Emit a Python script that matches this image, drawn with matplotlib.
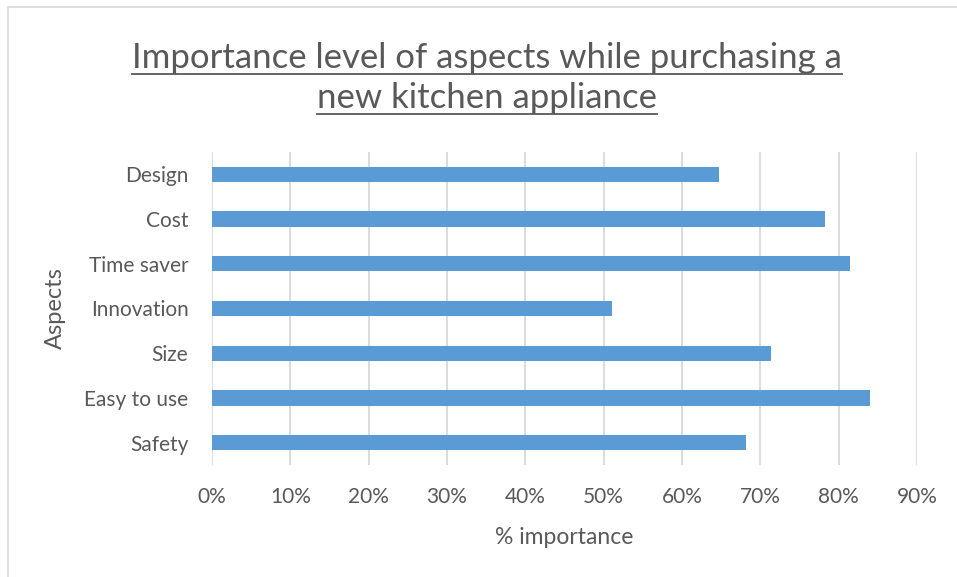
import matplotlib
matplotlib.use("Agg")
import matplotlib.pyplot as plt
from matplotlib.patches import Rectangle
from matplotlib.lines import Line2D

categories = ["Safety", "Easy to use", "Size", "Innovation", "Time saver", "Cost", "Design"]
values = [68.2, 84.0, 71.4, 51.1, 81.5, 78.2, 64.7]
xticks = [0, 10, 20, 30, 40, 50, 60, 70, 80, 90]
xtick_labels = [f"{t}%" for t in xticks]
title_lines = ["Importance level of aspects while purchasing a", "new kitchen appliance"]

plt.rcParams['font.family'] = ['Lato', 'DejaVu Sans']
W, H = 957, 577
fig = plt.figure(figsize=(W/100, H/100), dpi=100)
ax = fig.add_axes([212/W, 1-465/H, (917-212)/W, (465-152)/H])

gray = "#595959"
ax.barh(range(len(categories)), values, height=0.34, color="#5b9bd5", zorder=3)
ax.set_xlim(0, 90)
ax.set_ylim(-0.5, len(categories)-0.5)
ax.set_xticks(xticks)
ax.set_xticklabels(xtick_labels)
ax.set_yticks(range(len(categories)))
ax.set_yticklabels(categories)
ax.grid(axis='x', color="#d9d9d9", linewidth=1.3, zorder=0)
for s in ax.spines.values():
    s.set_visible(False)
ax.tick_params(axis='both', length=0, labelsize=15, labelcolor=gray)
ax.tick_params(axis='x', pad=16)
ax.tick_params(axis='y', pad=17)
ax.set_xlabel("% importance", fontsize=16.5, color=gray, labelpad=14)
ax.set_ylabel("Aspects", fontsize=17, color=gray, labelpad=13)

# chart border
fig.patches.append(Rectangle((8/W, -0.1), 1.2, 1-7/H+0.1, transform=fig.transFigure,
                             fill=False, edgecolor="#d9d9d9", linewidth=1.2))

t1 = fig.text(487/W, 1-68/H, title_lines[0], ha='center', va='baseline', fontsize=25, color=gray)
t2 = fig.text(487/W, 1-108/H, title_lines[1], ha='center', va='baseline', fontsize=25, color=gray)
fig.canvas.draw()
r = fig.canvas.get_renderer()
for t, uy in [(t1, 74), (t2, 114)]:
    bb = t.get_window_extent(r)
    fig.lines.append(Line2D([bb.x0/W, bb.x1/W], [1-uy/H, 1-uy/H], transform=fig.transFigure,
                            color=gray, linewidth=1.3))

fig.savefig("out.png", dpi=100)
